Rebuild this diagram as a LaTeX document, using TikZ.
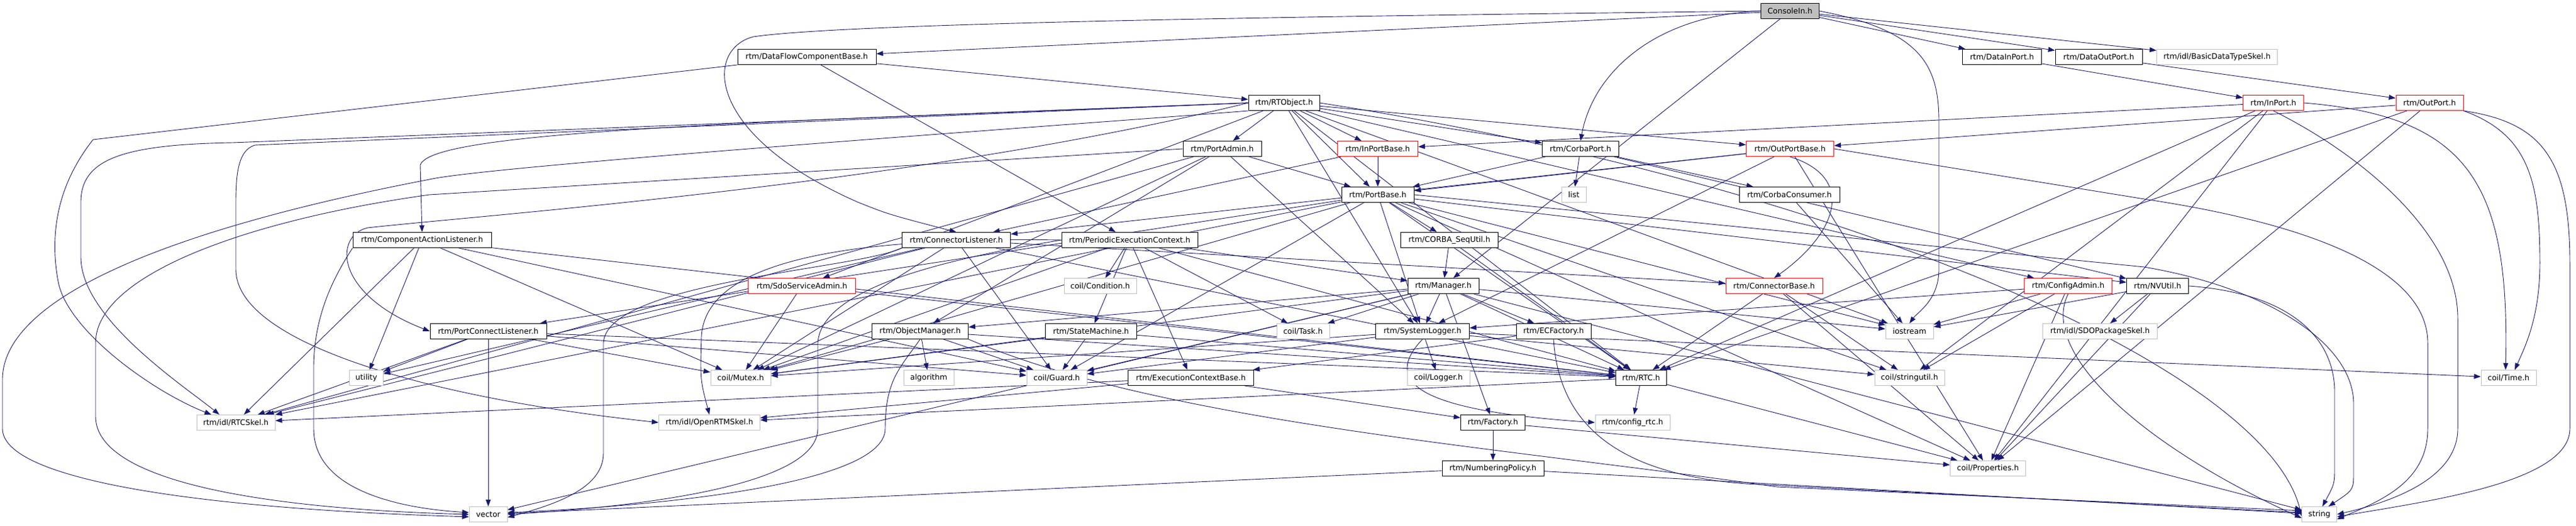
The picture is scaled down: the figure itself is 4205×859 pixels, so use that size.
\documentclass[tikz,border=0pt]{standalone}
\usepackage{fontspec}
\setmainfont{DejaVu Sans}
\usetikzlibrary{arrows.meta,calc}
\definecolor{edgeblue}{RGB}{25,25,112}
\definecolor{extgray}{RGB}{191,191,191}
\pgfdeclarelayer{bg}
\pgfsetlayers{bg,main}
\begin{document}
\begin{tikzpicture}[x=1pt,y=-1pt,
  nb/.style={draw=black,line width=1pt,fill=white,rectangle,inner sep=0pt,minimum height=25pt,font=\fontsize{12.5}{14}\selectfont},
  ext/.style={nb,draw=extgray},
  trunc/.style={nb,draw=red},
  rootn/.style={nb,fill=extgray},
  edge/.style={draw=edgeblue,line width=0.9pt,-{Triangle[length=11pt,width=8pt]}}]
\useasboundingbox (0,0) rectangle (4205,859);
% row 0
\node[rootn,minimum width=95pt] (c) at (2922,18) {ConsoleIn.h};
% row 1
\node[nb,minimum width=226pt] (dfcb) at (1317,93) {rtm/DataFlowComponentBase.h};
\node[nb,minimum width=129pt] (dip) at (3268,93) {rtm/DataInPort.h};
\node[nb,minimum width=142pt] (dop) at (3426,93) {rtm/DataOutPort.h};
\node[ext,minimum width=197pt] (bdts) at (3619,93) {rtm/idl/BasicDataTypeSkel.h};
% row 2
\node[nb,minimum width=116pt] (rto) at (2096,168) {rtm/RTObject.h};
\node[trunc,minimum width=99pt] (inport) at (3711,168) {rtm/InPort.h};
\node[trunc,minimum width=110pt] (outport) at (3966,168) {rtm/OutPort.h};
% row 3
\node[nb,minimum width=128pt] (padm) at (1995,243) {rtm/PortAdmin.h};
\node[trunc,minimum width=131pt] (ipb) at (2249,243) {rtm/InPortBase.h};
\node[nb,minimum width=125pt] (cport) at (2580,243) {rtm/CorbaPort.h};
\node[trunc,minimum width=143pt] (opb) at (2922,243) {rtm/OutPortBase.h};
% row 4
\node[nb,minimum width=118pt] (pbase) at (2249,318) {rtm/PortBase.h};
\node[ext,minimum width=40pt] (list) at (2569,318) {list};
\node[nb,minimum width=164pt] (ccons) at (2921,318) {rtm/CorbaConsumer.h};
% row 5
\node[nb,minimum width=226pt] (cal) at (689,392) {rtm/ComponentActionListener.h};
\node[nb,minimum width=177pt] (clis) at (1561,392) {rtm/ConnectorListener.h};
\node[nb,minimum width=222pt] (pec) at (1844,392) {rtm/PeriodicExecutionContext.h};
\node[nb,minimum width=159pt] (cseq) at (2366,392) {rtm/CORBA\_SeqUtil.h};
% row 6
\node[trunc,minimum width=175pt] (sdo) at (1309,467) {rtm/SdoServiceAdmin.h};
\node[ext,minimum width=118pt] (cond) at (1796,467) {coil/Condition.h};
\node[nb,minimum width=116pt] (mgr) at (2356,467) {rtm/Manager.h};
\node[trunc,minimum width=158pt] (cbase) at (2896,467) {rtm/ConnectorBase.h};
\node[trunc,minimum width=143pt] (cadm) at (3376,467) {rtm/ConfigAdmin.h};
\node[nb,minimum width=101pt] (nvu) at (3522,467) {rtm/NVUtil.h};
% row 7
\node[nb,minimum width=190pt] (pcl) at (797,541) {rtm/PortConnectListener.h};
\node[nb,minimum width=157pt] (om) at (1502,541) {rtm/ObjectManager.h};
\node[nb,minimum width=149pt] (sm) at (1781,541) {rtm/StateMachine.h};
\node[ext,minimum width=86pt] (task) at (2127,541) {coil/Task.h};
\node[nb,minimum width=153pt] (slog) at (2322,541) {rtm/SystemLogger.h};
\node[nb,minimum width=122pt] (ecf) at (2536,541) {rtm/ECFactory.h};
\node[ext,minimum width=78pt] (ios) at (3117,541) {iostream};
\node[ext,minimum width=187pt] (sdops) at (3428,541) {rtm/idl/SDOPackageSkel.h};
% row 8
\node[ext,minimum width=55pt] (util) at (598,617) {utility};
\node[ext,minimum width=98pt] (mutex) at (1209,617) {coil/Mutex.h};
\node[ext,minimum width=82pt] (algo) at (1516,617) {algorithm};
\node[ext,minimum width=98pt] (guard) at (1725,617) {coil/Guard.h};
\node[nb,minimum width=205pt] (ecb) at (1944,617) {rtm/ExecutionContextBase.h};
\node[ext,minimum width=102pt] (logger) at (2348,617) {coil/Logger.h};
\node[nb,minimum width=83pt] (rtc) at (2679,617) {rtm/RTC.h};
\node[ext,minimum width=114pt] (strutil) at (3117,617) {coil/stringutil.h};
\node[ext,minimum width=90pt] (time) at (4095,617) {coil/Time.h};
% row 9
\node[ext,minimum width=128pt] (rtcskel) at (385,690) {rtm/idl/RTCSkel.h};
\node[ext,minimum width=165pt] (ortmskel) at (1158,690) {rtm/idl/OpenRTMSkel.h};
\node[nb,minimum width=105pt] (fact) at (2437,690) {rtm/Factory.h};
\node[ext,minimum width=122pt] (cfgrtc) at (2665,690) {rtm/config\_rtc.h};
% row 10
\node[nb,minimum width=166pt] (numpol) at (2437,765) {rtm/NumberingPolicy.h};
\node[ext,minimum width=123pt] (props) at (3245,765) {coil/Properties.h};
% row 11
\node[ext,minimum width=62pt] (vector) at (797,840) {vector};
\node[ext,minimum width=57pt] (string) at (3786,840) {string};
% edges
\begin{pgfonlayer}{bg}
\fill[white] (0,0) rectangle (4205,859);
\foreach \s/\t in {c/dfcb,c/mgr,c/dip,c/dop,c/bdts,
 dfcb/rto,dfcb/pec,dip/inport,dop/outport,
 rto/padm,rto/ipb,rto/pbase,rto/cport,rto/opb,rto/sdo,rto/cadm,rto/slog,rto/rtc,rto/ios,
 inport/ipb,inport/rtc,inport/strutil,inport/props,
 outport/opb,outport/props,outport/rtc,
 padm/pbase,padm/om,padm/slog,padm/rtcskel,padm/mutex,
 ipb/pbase,ipb/clis,
 cport/pbase,cport/list,cport/ccons,cport/nvu,
 opb/pbase,opb/clis,opb/slog,opb/props,
 pbase/cseq,pbase/pcl,pbase/nvu,pbase/rtcskel,pbase/slog,pbase/mutex,pbase/guard,pbase/props,pbase/strutil,pbase/ios,pbase/rtc,
 ccons/ios,
 cal/util,cal/rtcskel,cal/mutex,cal/guard,cal/rtc,
 clis/cbase,clis/rtc,clis/mutex,clis/guard,clis/util,clis/rtcskel,
 pec/cond,pec/sm,pec/ecb,pec/task,pec/mgr,pec/rtc,pec/mutex,
 cseq/mgr,cseq/rtc,sdo/mutex,sdo/rtc,
 mgr/om,mgr/task,mgr/slog,mgr/ecf,mgr/fact,mgr/rtc,mgr/mutex,mgr/guard,mgr/vector,mgr/string,mgr/ios,
 cbase/rtc,cbase/props,cbase/strutil,
 cadm/ios,cadm/strutil,cadm/props,cadm/slog,
 nvu/sdops,nvu/ios,nvu/props,
 pcl/vector,pcl/mutex,pcl/util,pcl/rtcskel,pcl/guard,pcl/rtc,
 om/algo,om/guard,om/mutex,om/rtc,
 sm/guard,sm/mutex,sm/rtc,
 slog/logger,slog/mutex,slog/guard,slog/time,slog/strutil,
 ecf/ecb,ecb/rtcskel,ecb/ortmskel,ecb/fact,
 rtc/cfgrtc,rtc/props,rtc/ortmskel,fact/numpol,fact/props,numpol/vector,numpol/string}
 \draw[edge] (\s) -- (\t);
% routed edges, left side
\draw[edge] (dfcb.south west) -- (152,228) .. controls (95,300) and (80,380) .. (95,460) .. controls (110,540) and (250,640) .. ([xshift=-40pt]rtcskel.north);
\draw[edge] (rto.west) -- (380,233) .. controls (200,236) and (132,260) .. (132,330) -- (132,420) .. controls (132,520) and (300,630) .. ([xshift=-27pt]rtcskel.north);
\draw[edge] (rto.west) -- (416,237) .. controls (390,245) and (385,280) .. (385,330) -- (385,440) .. controls (385,560) and (700,650) .. (ortmskel.west);
\draw[edge] (rto.south west) .. controls (1800,200) and (800,270) .. (701,293) .. controls (300,370) and (4,480) .. (4,620) -- (4,700) .. controls (4,780) and (300,830) .. ([yshift=-4pt]vector.west);
\draw[edge] (padm.west) -- (701,318) .. controls (400,360) and (156,450) .. (156,560) -- (156,680) .. controls (156,780) and (400,830) .. (vector.west);
\draw[edge] (cal.south west) .. controls (560,430) and (512,500) .. (512,600) -- (512,700) .. controls (512,800) and (650,830) .. ([yshift=3pt]vector.west);
\draw[edge] (clis.south west) .. controls (1400,440) and (990,460) .. (985,560) -- (985,740) .. controls (985,800) and (900,825) .. ([yshift=-5pt]vector.east);
\draw[edge] (pec.west) .. controls (1500,430) and (1340,480) .. (1335,560) -- (1335,700) .. controls (1335,800) and (1000,830) .. (vector.east);
\draw[edge] (om.south) .. controls (1470,600) and (1445,620) .. (1445,700) .. controls (1445,800) and (1000,830) .. ([yshift=3pt]vector.east);
\draw[edge] (pec.west) .. controls (1300,385) and (1150,450) .. (1145,550) .. controls (1143,620) .. (ortmskel.north);
\draw[edge] (rto.west) .. controls (1200,200) and (700,215) .. (686,270) -- (cal.north);
\draw[edge] (rto.west) .. controls (1500,300) and (800,350) .. (600,372) .. controls (545,385) and (545,480) .. (pcl.west);
% routed edges, middle
\draw[edge] (opb.south) .. controls (3030,290) and (3000,380) .. (cbase.north);
\draw[edge] (slog.south) .. controls (2260,620) and (2300,670) .. (cfgrtc.west);
\draw[edge] (ecf.south) .. controls (2545,700) and (2650,775) .. (2850,790) -- ([yshift=3pt]string.west);
\draw[edge] (om.south east) .. controls (1900,690) and (2450,730) .. (2900,795) -- ([yshift=6pt]string.west);
% routed edges, right side
\draw[edge] (outport.south east) .. controls (4150,200) and (4195,260) .. (4195,430) -- (4195,700) .. controls (4195,790) and (3950,820) .. ([yshift=-4pt]string.east);
\draw[edge] (inport.south) .. controls (3850,250) and (4012,380) .. (4012,520) -- (4012,700) .. controls (4012,790) and (3880,825) .. (string.east);
\draw[edge] (opb.east) -- (3500,325) .. controls (3800,370) and (3963,450) .. (3963,560) -- (3963,700) .. controls (3963,790) and (3880,820) .. ([yshift=-8pt]string.east);
\draw[edge] (nvu.east) .. controls (3750,480) and (3811,560) .. (3811,640) -- (3811,760) .. controls (3811,790) .. ([xshift=5pt]string.north);
\draw[edge] (pbase.east) -- (3500,436) .. controls (3700,470) and (3842,560) .. (3842,660) -- (3842,770) .. controls (3842,800) .. ([xshift=15pt]string.north);
\draw[edge] (cadm.south) .. controls (3330,570) and (3480,720) .. ([yshift=-6pt]string.west);
\draw[edge] (inport.east) .. controls (4030,190) and (4097,300) .. ([xshift=-5pt]time.north);
\draw[edge] (outport.south east) .. controls (4130,220) and (4146,300) .. (4146,430) .. controls (4146,520) and (4120,570) .. ([xshift=10pt]time.north);
\draw[edge] (rto.east) .. controls (3000,300) and (3700,600) .. ([yshift=-3pt]string.west);
% ConsoleIn routed
\draw[edge] (c.west) .. controls (2700,25) and (2600,120) .. (cport.north);
\draw[edge] (c.east) .. controls (3140,50) and (3165,110) .. (3165,200) -- (3165,440) .. controls (3165,490) and (3130,510) .. (ios.north);
\draw[edge] (c.west) .. controls (2300,25) and (1400,35) .. (1230,60) .. controls (1150,80) and (1150,220) .. (1400,330) .. controls (1450,350) .. (clis.north);
\end{pgfonlayer}
\end{tikzpicture}
\end{document}
